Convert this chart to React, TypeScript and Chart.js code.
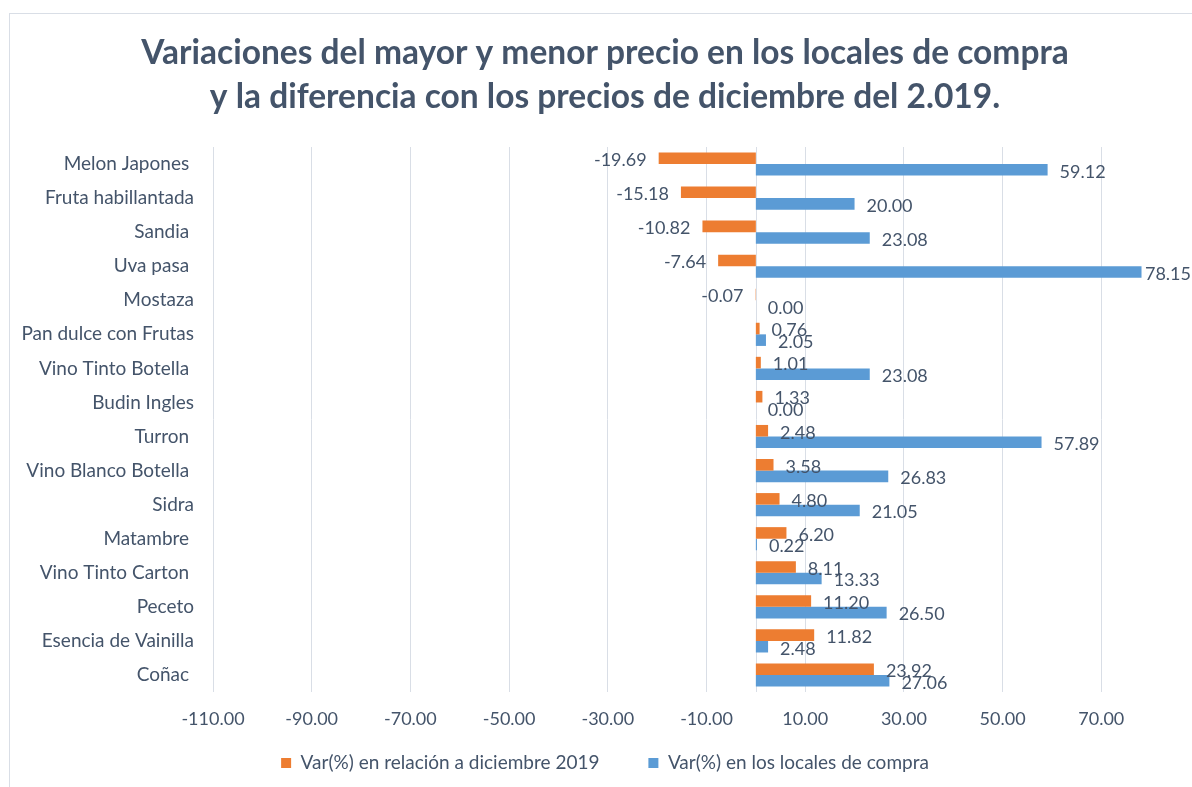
import React, { useEffect, useRef } from "react";
import { Chart, registerables } from "chart.js";

Chart.register(...registerables);

const categories = [
  "Melon Japones ",
  "Fruta habillantada",
  "Sandia ",
  "Uva pasa ",
  "Mostaza",
  "Pan dulce con Frutas",
  "Vino Tinto Botella ",
  "Budin Ingles",
  "Turron ",
  "Vino Blanco Botella ",
  "Sidra",
  "Matambre ",
  "Vino Tinto Carton ",
  "Peceto",
  "Esencia de Vainilla",
  "Coñac ",
];

const varDiciembre = [
  -19.69, -15.18, -10.82, -7.64, -0.07, 0.76, 1.01, 1.33, 2.48, 3.58, 4.8, 6.2,
  8.11, 11.2, 11.82, 23.92,
];

const varLocales = [
  59.12, 20.0, 23.08, 78.15, 0.0, 2.05, 23.08, 0.0, 57.89, 26.83, 21.05, 0.22,
  13.33, 26.5, 2.48, 27.06,
];

const tickValues = [-110, -90, -70, -50, -30, -10, 10, 30, 50, 70];

const seriesNames = [
  "Var(%) en relación a diciembre 2019",
  "Var(%) en los locales de compra",
];

const titleLines = [
  "Variaciones del mayor y menor precio en los locales de compra",
  "y la diferencia con los precios de diciembre del 2.019.",
];

const FONT = "Lato, 'Open Sans', sans-serif";
const TEXT = "#44546A";
const GRID = "#d9dee6";

const zeroLine = {
  id: "zeroLine",
  beforeDatasetsDraw(chart: any) {
    const { ctx, chartArea, scales } = chart;
    const x = Math.round(scales.x.getPixelForValue(0)) + 0.5;
    ctx.save();
    ctx.strokeStyle = GRID;
    ctx.lineWidth = 1;
    ctx.beginPath();
    ctx.moveTo(x, chartArea.top);
    ctx.lineTo(x, chartArea.bottom);
    ctx.stroke();
    ctx.restore();
  },
};

const VISIBLE_RIGHT = 1181;

const dataLabels = {
  id: "dataLabels",
  afterDatasetsDraw(chart: any) {
    const { ctx } = chart;
    ctx.save();
    ctx.font = `18px ${FONT}`;
    ctx.fillStyle = TEXT;
    ctx.textBaseline = "middle";
    chart.data.datasets.forEach((ds: any, i: number) => {
      const meta = chart.getDatasetMeta(i);
      meta.data.forEach((bar: any, j: number) => {
        const v = ds.data[j] as number;
        const text = v.toFixed(2);
        if (v < 0) {
          ctx.textAlign = "right";
          ctx.fillText(text, bar.x - 12, bar.y + 2);
        } else {
          ctx.textAlign = "left";
          const w = ctx.measureText(text).width;
          const x = Math.min(bar.x + 12, VISIBLE_RIGHT - w);
          ctx.fillText(text, x, bar.y + 2);
        }
      });
    });
    ctx.restore();
  },
};

export default function App() {
  const ref = useRef<HTMLCanvasElement>(null);

  useEffect(() => {
    document.documentElement.style.overflow = "hidden";
    document.body.style.overflow = "hidden";
    const chart = new Chart(ref.current!, {
      type: "bar",
      data: {
        labels: categories,
        datasets: [
          {
            label: seriesNames[0],
            data: varDiciembre,
            backgroundColor: "#ED7D31",
            categoryPercentage: 0.68,
            barPercentage: 1.0,
          },
          {
            label: seriesNames[1],
            data: varLocales,
            backgroundColor: "#5B9BD5",
            categoryPercentage: 0.68,
            barPercentage: 1.0,
          },
        ],
      },
      options: {
        indexAxis: "y",
        animation: false,
        responsive: false,
        layout: { padding: { left: 0, right: 6, top: 0, bottom: 11.5 } },
        scales: {
          x: {
            min: -110,
            max: 90,
            afterBuildTicks: (scale: any) => {
              scale.ticks = tickValues.map((v) => ({ value: v }));
            },
            afterFit: (scale: any) => {
              scale.height = 51.5;
            },
            grid: { color: GRID, drawTicks: false, lineWidth: 1 },
            border: { display: false },
            ticks: {
              padding: 16,
              color: TEXT,
              font: { family: FONT, size: 18 },
              callback: (v: any) => Number(v).toFixed(2),
            },
          },
          y: {
            afterFit: (scale: any) => {
              scale.width = 203;
            },
            grid: { display: false, drawTicks: false },
            border: { display: false },
            ticks: {
              padding: 19,
              color: TEXT,
              font: { family: FONT, size: 19 },
            },
          },
        },
        plugins: {
          title: {
            display: true,
            text: titleLines,
            color: TEXT,
            font: { family: FONT, size: 33.5, weight: "bold", lineHeight: 44 / 33.5 },
            padding: { top: 17, bottom: 28 },
          },
          legend: {
            position: "bottom",
            labels: {
              boxWidth: 10,
              boxHeight: 10,
              padding: 10,
              color: TEXT,
              font: { family: FONT, size: 19 },
              generateLabels: (chart: any) => {
                const items = Chart.defaults.plugins.legend.labels.generateLabels(chart);
                return items.map((it: any, i: number) =>
                  i === 0 ? { ...it, text: it.text + "        " } : it
                );
              },
            },
          },
          tooltip: { enabled: false },
        },
      },
      plugins: [zeroLine, dataLabels],
    });
    return () => chart.destroy();
  }, []);

  return (
    <div
      style={{
        position: "absolute",
        left: 9,
        top: 13,
        width: 1260,
        height: 820,
        borderTop: `1px solid ${GRID}`,
        borderLeft: `1px solid ${GRID}`,
        background: "#fff",
      }}
    >
      <canvas ref={ref} width={1196} height={780} style={{ display: "block" }} />
    </div>
  );
}
